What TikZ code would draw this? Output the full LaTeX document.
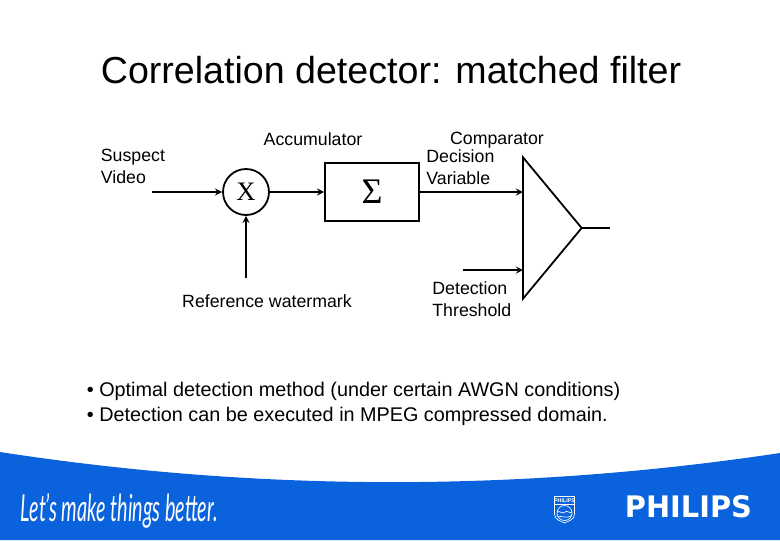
\documentclass[tikz,border=0pt]{standalone}
\usepackage{fontspec}
\usepackage{graphicx}
\setmainfont{Liberation Sans}
\newfontfamily\greekfont{Liberation Serif}
\newfontfamily\brandfont{DejaVu Sans}
\newfontfamily\slogfont{Lato}
\usetikzlibrary{shapes.geometric}
\definecolor{philipsblue}{HTML}{0A62DC}

\begin{document}
\begin{tikzpicture}[x=0.75pt,y=-0.75pt,->,>=stealth,shorten >=0pt,line width=1.35pt,
                    main node/.style={draw,font=\greekfont\fontsize{20}{20}\selectfont,inner sep=0pt},
                    label node/.style={inner sep=0pt,align=left,font=\fontsize{13.3}{16.5}\selectfont},
                    logo node/.style={inner sep=0pt,text=white}]

        \useasboundingbox (0,0) rectangle (780,540);

        % Footer band
        \fill[philipsblue,draw=none] (0,452) .. controls (260,492) and (520,492) .. (780,453)
            -- (780,540) -- (0,540) -- cycle;

        % Define vertices
        \node[main node,circle,minimum size=34.5pt] (mult) at (246,192) {X};
        \node[main node,rectangle,minimum width=70.5pt,minimum height=43.5pt,
              font=\greekfont\fontsize{27}{27}\selectfont] (sum) [right of=mult,node distance=94.5pt] {Σ};
        \node[draw,isosceles triangle,isosceles triangle stretches,inner sep=0pt,outer sep=0pt,
              minimum width=106pt,minimum height=44pt] (comp) at (548.5,228) {};

        % Free ends
        \coordinate (video) at (152,192);
        \coordinate (refin) at (246,278);
        \coordinate (thresh) at (463,270);
        \coordinate (out) at (610,228);
        \coordinate (decin) at (sum -| comp.lower side);
        \coordinate (thrin) at (thresh -| comp.lower side);

        % Draw edges
        \path
            (video) edge (mult)
            (refin) edge (mult)
            (mult) edge (sum)
            (sum) edge (decin)
            (thresh) edge (thrin)
            (comp.apex) edge[-] (out);

        % Labels
        \node[label node] (accu) at (313,139) {Accumulator};
        \node[label node] (cmpr) at (497,140.5) {Comparator};
        \node[label node,anchor=west] (susp) at (100,166) {Suspect\\Video};
        \node[label node,anchor=west] (decv) at (425.5,167) {Decision\\Variable};
        \node[label node,anchor=west] (dett) at (431.5,299) {Detection\\Threshold};
        \node[label node] (refw) at (267,301) {Reference watermark};

        % Slide text
        \node[inner sep=0pt,anchor=west,font=\fontsize{28.2}{30}\selectfont] (title) at (100,70)
            {Correlation detector: matched filter};
        \node[inner sep=0pt,anchor=west,align=left,font=\fontsize{14.85}{18.75}\selectfont] (body) at (86,404)
            {• Optimal detection method (under certain AWGN conditions)\\
             • Detection can be executed in MPEG compressed domain.};

        % Footer logos
        \node[logo node,anchor=west] (slogan) at (20,511)
            {\resizebox{147.75pt}{21pt}{\slogfont\itshape Let’s make things better.}};
        \node[logo node,anchor=west] (brand) at (624,507)
            {\resizebox{95.25pt}{16.5pt}{\brandfont\bfseries PHILIPS}};
        \begin{scope}[-,white,line width=0.5pt]
            \draw (554.5,496.5) -- (574.5,496.5) -- (574.5,514)
                .. controls (574.5,520) and (568,521) .. (564.5,523)
                .. controls (561,521) and (554.5,520) .. (554.5,514) -- cycle;
            \draw (554.5,504) -- (574.5,504);
            \node[logo node,font=\bfseries\fontsize{4}{4}\selectfont] (shieldtext) at (564.5,500.5) {PHILIPS};
            \draw (564.5,513) circle[radius=7.5];
            \draw (557,512) .. controls (560,510) and (562,515) .. (565,512)
                .. controls (567,510) and (570,514) .. (572,512);
            \draw (558,517) .. controls (561,515) and (564,519) .. (571,516);
        \end{scope}

\end{tikzpicture}
\end{document}
